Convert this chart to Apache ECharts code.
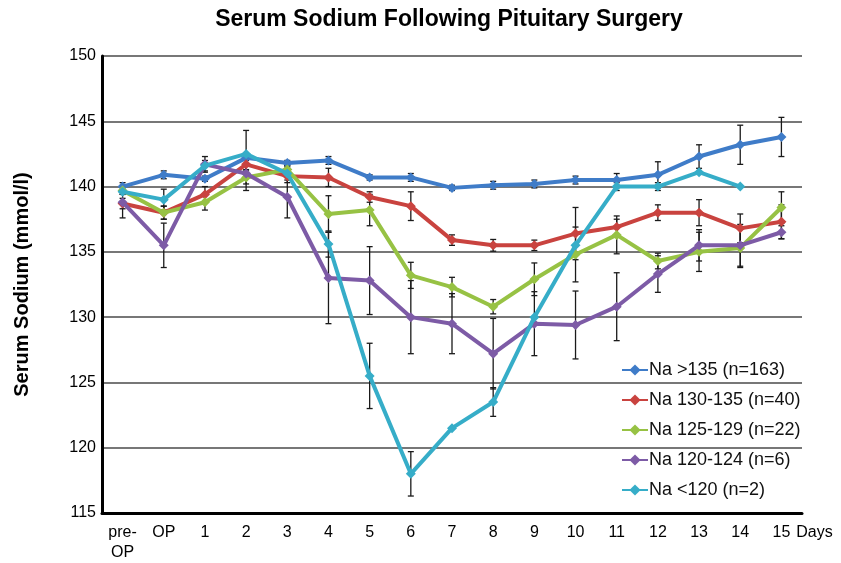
<!DOCTYPE html>
<html>
<head>
<meta charset="utf-8">
<script src="https://cdn.jsdelivr.net/npm/echarts@6/dist/echarts.min.js"></script>
<style>html,body{margin:0;padding:0;background:#fff}#c{width:841px;height:563px}</style>
</head>
<body>
<div id="c"></div>
<script>
const categories = ['pre-\nOP','OP','1','2','3','4','5','6','7','8','9','10','11','12','13','14','15'];
const yTicks = [115,120,125,130,135,140,145,150];

const naAbove135 = [140.0,140.9,140.6,142.2,141.8,142.0,140.7,140.7,139.9,140.1,140.2,140.5,140.5,140.9,142.3,143.2,143.8];
const na130to135 = [138.7,138.0,139.4,141.7,140.8,140.7,139.2,138.5,135.9,135.5,135.5,136.4,136.9,138.0,138.0,136.8,137.3];
const na125to129 = [139.7,138.0,138.8,140.7,141.3,137.9,138.2,133.2,132.3,130.8,132.9,134.8,136.3,134.3,135.0,135.3,138.4];
const na120to124 = [138.8,135.5,141.7,141.0,139.2,133.0,132.8,130.0,129.5,127.2,129.5,129.4,130.8,133.3,135.5,135.5,136.5];
const naBelow120 = [139.6,139.0,141.6,142.5,141.0,135.6,125.5,118.0,121.5,123.5,130.0,135.5,140.0,140.0,141.1,140.0,null];

const errAbove135 = [0.3,0.3,0.2,0.2,0.2,0.3,0.2,0.3,0.2,0.3,0.3,0.3,0.5,1.0,0.9,1.5,1.5];
const err130to135 = [0.4,0.5,0.6,0.4,0.5,0.7,0.4,1.1,0.4,0.45,0.4,2.0,0.6,0.6,1.0,1.1,1.3];
const err125to129 = [0.3,0.5,0.6,0.5,0.3,1.4,1.2,1.0,0.75,0.55,1.25,2.1,1.45,0.6,1.5,1.5,1.2];
const err120to124 = [1.2,1.7,0.6,1.3,1.6,3.5,2.6,2.8,2.3,2.7,2.45,2.6,2.6,1.4,1.2,1.6,0.5];
const errBelow120 = [0.2,0.8,0.4,1.8,0.5,1.0,2.5,1.7,0,1.1,0,0,0.3,0.3,0,0,null];

const seriesNames = ['Na >135 (n=163)','Na 130-135 (n=40)','Na 125-129 (n=22)','Na 120-124 (n=6)','Na <120 (n=2)'];
const seriesValues = [naAbove135, na130to135, na125to129, na120to124, naBelow120];
const seriesErrors = [errAbove135, err130to135, err125to129, err120to124, errBelow120];
const colors = ['#3f7cc8','#c9433f','#97c244','#7d5ba6','#36adc8'];

const FONT = '"Liberation Sans", Arial, sans-serif';
const chart = echarts.init(document.getElementById('c'), null, {renderer:'canvas'});

const lineSeries = seriesValues.map((vals, k) => ({
  name: seriesNames[k],
  type: 'line',
  data: vals.map(v => v == null ? '-' : v),
  symbol: 'diamond',
  symbolSize: 10,
  lineStyle: {width: 4, color: colors[k]},
  itemStyle: {color: colors[k]},
  z: 3 + k,
  animation: false
}));

const errSeries = seriesValues.map((vals, k) => ({
  type: 'custom',
  name: 'err' + k,
  data: vals.map((v, i) => (v == null || !seriesErrors[k][i]) ? null : [i, v, seriesErrors[k][i]]).filter(d => d),
  renderItem: function (params, api) {
    const x = api.value(0), v = api.value(1), e = api.value(2);
    const top = api.coord([x, v + e]);
    const bot = api.coord([x, v - e]);
    const hw = 3;
    const st = {stroke: '#1a1a1a', lineWidth: 1.3};
    return {
      type: 'group',
      children: [
        {type: 'line', shape: {x1: top[0], y1: top[1], x2: bot[0], y2: bot[1]}, style: st},
        {type: 'line', shape: {x1: top[0]-hw, y1: top[1], x2: top[0]+hw, y2: top[1]}, style: st},
        {type: 'line', shape: {x1: bot[0]-hw, y1: bot[1], x2: bot[0]+hw, y2: bot[1]}, style: st}
      ]
    };
  },
  z: 2,
  silent: true,
  animation: false
}));

chart.setOption({
  backgroundColor: '#fff',
  animation: false,
  textStyle: {fontFamily: FONT},
  graphic: [{
    type: 'text',
    x: 449,
    y: 8,
    style: {text: 'Serum Sodium Following Pituitary Surgery', font: 'bold 23px "Liberation Sans", Arial, sans-serif', fill: '#000', textAlign: 'center'}
  }],
  grid: {left: 102, right: 39, top: 56, bottom: 48, containLabel: false},
  legend: {
    data: seriesNames,
    orient: 'vertical',
    left: 621,
    top: 361,
    padding: 0,
    itemWidth: 26,
    itemHeight: 14,
    itemGap: 12,
    textStyle: {fontSize: 18, color: '#111', fontFamily: FONT, padding: [0,0,0,-4]}
  },
  xAxis: {
    type: 'category',
    data: categories,
    boundaryGap: true,
    axisLine: {lineStyle: {color: '#000', width: 3}},
    axisTick: {show: false},
    axisLabel: {color: '#000', fontSize: 16, margin: 10, lineHeight: 20, interval: 0, fontFamily: FONT},
    name: 'Days',
    nameLocation: 'end',
    nameGap: -7,
    nameTextStyle: {color: '#000', fontSize: 16, align: 'left', verticalAlign: 'top', padding: [12,0,0,0], fontFamily: FONT}
  },
  yAxis: {
    type: 'value',
    min: yTicks[0],
    max: yTicks[yTicks.length-1],
    interval: 5,
    axisLine: {show: true, lineStyle: {color: '#000', width: 3}},
    axisTick: {show: false},
    axisLabel: {color: '#000', fontSize: 16, margin: 6, fontFamily: FONT},
    splitLine: {lineStyle: {color: '#4a4a4a', width: 1.5}},
    name: 'Serum Sodium (mmol/l)',
    nameLocation: 'middle',
    nameGap: 70,
    nameTextStyle: {color: '#000', fontSize: 20, fontWeight: 'bold', fontFamily: FONT}
  },
  series: errSeries.concat(lineSeries)
});
</script>
</body>
</html>
